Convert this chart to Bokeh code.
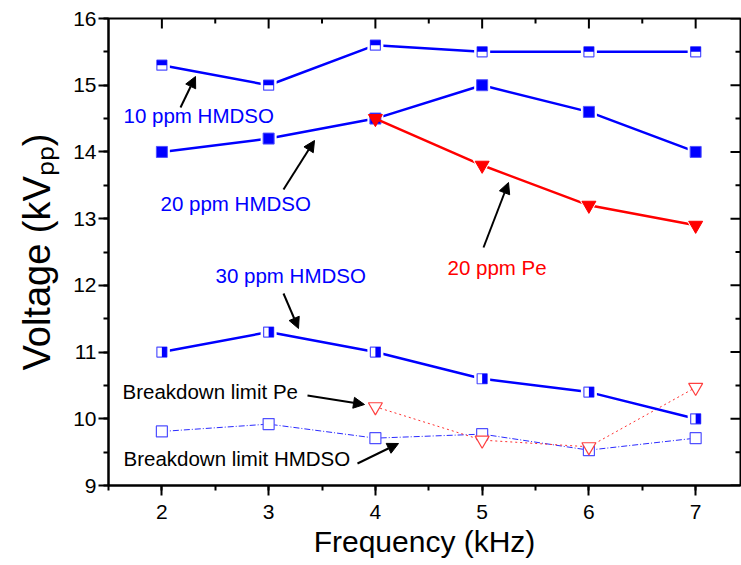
from bokeh.plotting import figure
from bokeh.models import Range1d, SingleIntervalTicker, Label, Arrow, NormalHead, Title
from bokeh.embed import file_html
from bokeh.resources import INLINE

# ---------------- data ----------------
freq = [2, 3, 4, 5, 6, 7]
hmdso10 = [15.3, 15.0, 15.6, 15.5, 15.5, 15.5]
hmdso20 = [14.0, 14.2, 14.5, 15.0, 14.6, 14.0]
hmdso30 = [11.0, 11.3, 11.0, 10.6, 10.4, 10.0]
freq_pe = [4, 5, 6, 7]
pe20 = [14.5, 13.8, 13.2, 12.9]
bd_pe = [10.18, 9.68, 9.58, 10.47]
bd_hmdso = [9.81, 9.92, 9.71, 9.77, 9.53, 9.71]

x_ticks = [2, 3, 4, 5, 6, 7]
y_ticks = [9, 10, 11, 12, 13, 14, 15, 16]

# ---------------- layout ----------------
X0, X1 = 1.5, 7.42
Y0, Y1 = 9.0, 16.0
TOTAL_H = 565
FW, FH = 632, 467          # frame size in px
FL, FT = 108, 18           # frame left/top on page
PXX = FW / (X1 - X0)
PXY = FH / (Y1 - Y0)

def dx(px):
    return X0 + (px - FL) / PXX

def dy(py):
    return Y1 - (py - FT) / PXY

FONT = "Liberation Sans"
BLUE = "#0000ff"
RED = "#ff0000"

p = figure(frame_width=FW, frame_height=FH, output_backend="svg", toolbar_location=None,
           title=None, x_range=Range1d(X0, X1), y_range=Range1d(Y0, Y1),
           min_border_left=FL, min_border_top=FT,
           min_border_bottom=TOTAL_H - FH - FT, min_border_right=1,
           background_fill_color="white", border_fill_color="white")
p.grid.visible = False
p.outline_line_color = "black"
p.outline_line_width = 2

def style_axis(ax):
    ax.ticker = SingleIntervalTicker(interval=1, num_minor_ticks=2)
    ax.axis_line_width = 2
    ax.axis_line_color = "black"
    ax.major_tick_line_width = 2
    ax.minor_tick_line_width = 2
    ax.major_tick_line_color = "black"
    ax.minor_tick_line_color = "black"
    ax.major_tick_out = 10
    ax.major_tick_in = 0
    ax.minor_tick_out = 5
    ax.minor_tick_in = 0
    ax.major_label_text_font = FONT
    ax.major_label_text_font_size = "21px"
    ax.major_label_text_color = "black"

xa = p.xaxis[0]
ya = p.yaxis[0]
style_axis(xa)
style_axis(ya)
xa.major_label_standoff = 9
xa.axis_label = "Frequency (kHz)"
xa.axis_label_text_font = FONT
xa.axis_label_text_font_size = "30px"
xa.axis_label_text_font_style = "normal"
xa.axis_label_text_color = "black"
xa.axis_label_standoff = 3
ya.major_label_standoff = 2

# y-axis title (with subscript pp) as a left-side title, shifted up like the original
ytitle = Title(text="Voltage (kV\u209a\u209a)", text_font=FONT, text_font_size="38px",
               text_font_style="normal", text_color="black", align="center",
               offset=25, standoff=25)
p.add_layout(ytitle, "left")

# inward ticks on top and right frame edges (from tick arrays)
x_minor = [t + 0.5 for t in x_ticks[:-1]]
y_minor = [t + 0.5 for t in y_ticks[:-1]]
p.segment(x0=x_ticks, y0=[Y1] * len(x_ticks), x1=x_ticks, y1=[Y1 - 10 / PXY] * len(x_ticks),
          line_color="black", line_width=2)
p.segment(x0=x_minor, y0=[Y1] * len(x_minor), x1=x_minor, y1=[Y1 - 5 / PXY] * len(x_minor),
          line_color="black", line_width=2)
p.segment(x0=[X1] * len(y_ticks), y0=y_ticks, x1=[X1 - 10 / PXX] * len(y_ticks), y1=y_ticks,
          line_color="black", line_width=2)
p.segment(x0=[X1] * len(y_minor), y0=y_minor, x1=[X1 - 5 / PXX] * len(y_minor), y1=y_minor,
          line_color="black", line_width=2)

# ---------------- series ----------------
OPEN_LINE = "#5050ff"

# breakdown HMDSO
p.line(freq, bd_hmdso, line_color="#2a2aff", line_width=1, line_dash="6 2 1 2")
# breakdown Pe
p.line(freq_pe, bd_pe, line_color="#ff3030", line_width=1, line_dash="2 3")
p.scatter(freq, bd_hmdso, marker="square", size=11, fill_color="white", line_color=OPEN_LINE, line_width=1.2)
p.scatter(freq_pe, bd_pe, marker="inverted_triangle", size=14, fill_color="white", line_color="#ff4040", line_width=1.2)

# 30 ppm HMDSO (right half filled)
p.line(freq, hmdso30, line_color=BLUE, line_width=2.5)
p.scatter(freq, hmdso30, marker="square", size=16, fill_color="white", line_color=None)
p.scatter(freq, hmdso30, marker="square", size=10, fill_color="white", line_color=OPEN_LINE, line_width=1.2)
p.rect([f + 2.5 / PXX for f in freq], hmdso30, width=5, height=10, width_units="screen",
       height_units="screen", fill_color=BLUE, line_color=None)

# 10 ppm HMDSO (top half filled)
p.line(freq, hmdso10, line_color=BLUE, line_width=2.5)
p.scatter(freq, hmdso10, marker="square", size=16, fill_color="white", line_color=None)
p.scatter(freq, hmdso10, marker="square", size=10, fill_color="white", line_color=OPEN_LINE, line_width=1.2)
p.rect(freq, [v + 2.5 / PXY for v in hmdso10], width=10, height=5, width_units="screen",
       height_units="screen", fill_color=BLUE, line_color=None)

# 20 ppm HMDSO
p.line(freq, hmdso20, line_color=BLUE, line_width=2.5)
p.scatter(freq, hmdso20, marker="square", size=16, fill_color="white", line_color=None)
p.scatter(freq, hmdso20, marker="square", size=11, fill_color=BLUE, line_color=OPEN_LINE, line_width=1)

# 20 ppm Pe
p.line(freq_pe, pe20, line_color=RED, line_width=2.5)
p.scatter(freq_pe[1:], pe20[1:], marker="inverted_triangle", size=19, fill_color="white", line_color=None)
p.scatter(freq_pe, pe20, marker="inverted_triangle", size=14, fill_color=RED, line_color=RED, line_width=1)

# ---------------- annotations ----------------
notes = [
    ("10 ppm HMDSO", 123, 115, BLUE),
    ("20 ppm HMDSO", 160, 203, BLUE),
    ("30 ppm HMDSO", 215, 275, BLUE),
    ("20 ppm Pe", 447, 267, RED),
    ("Breakdown limit Pe", 122, 391, "black"),
    ("Breakdown limit HMDSO", 123, 458, "black"),
]
for txt, px, py, col in notes:
    p.add_layout(Label(x=dx(px), y=dy(py), text=txt, text_color=col, text_font=FONT,
                       text_font_size="20.5px", text_align="left", text_baseline="middle"))

arrows = [
    ((180, 107), (195, 76)),
    ((283, 189), (314, 140)),
    ((283, 293), (298, 328)),
    ((483, 247), (508, 182)),
    ((307, 395), (364, 404)),
    ((357, 463), (398, 443)),
]
for (sx, sy), (ex, ey) in arrows:
    p.add_layout(Arrow(end=NormalHead(size=11, fill_color="black", line_color="black", line_width=1),
                       x_start=dx(sx), y_start=dy(sy), x_end=dx(ex), y_end=dy(ey),
                       line_width=2, line_color="black"))

open("out.html", "w").write(file_html(p, INLINE))
